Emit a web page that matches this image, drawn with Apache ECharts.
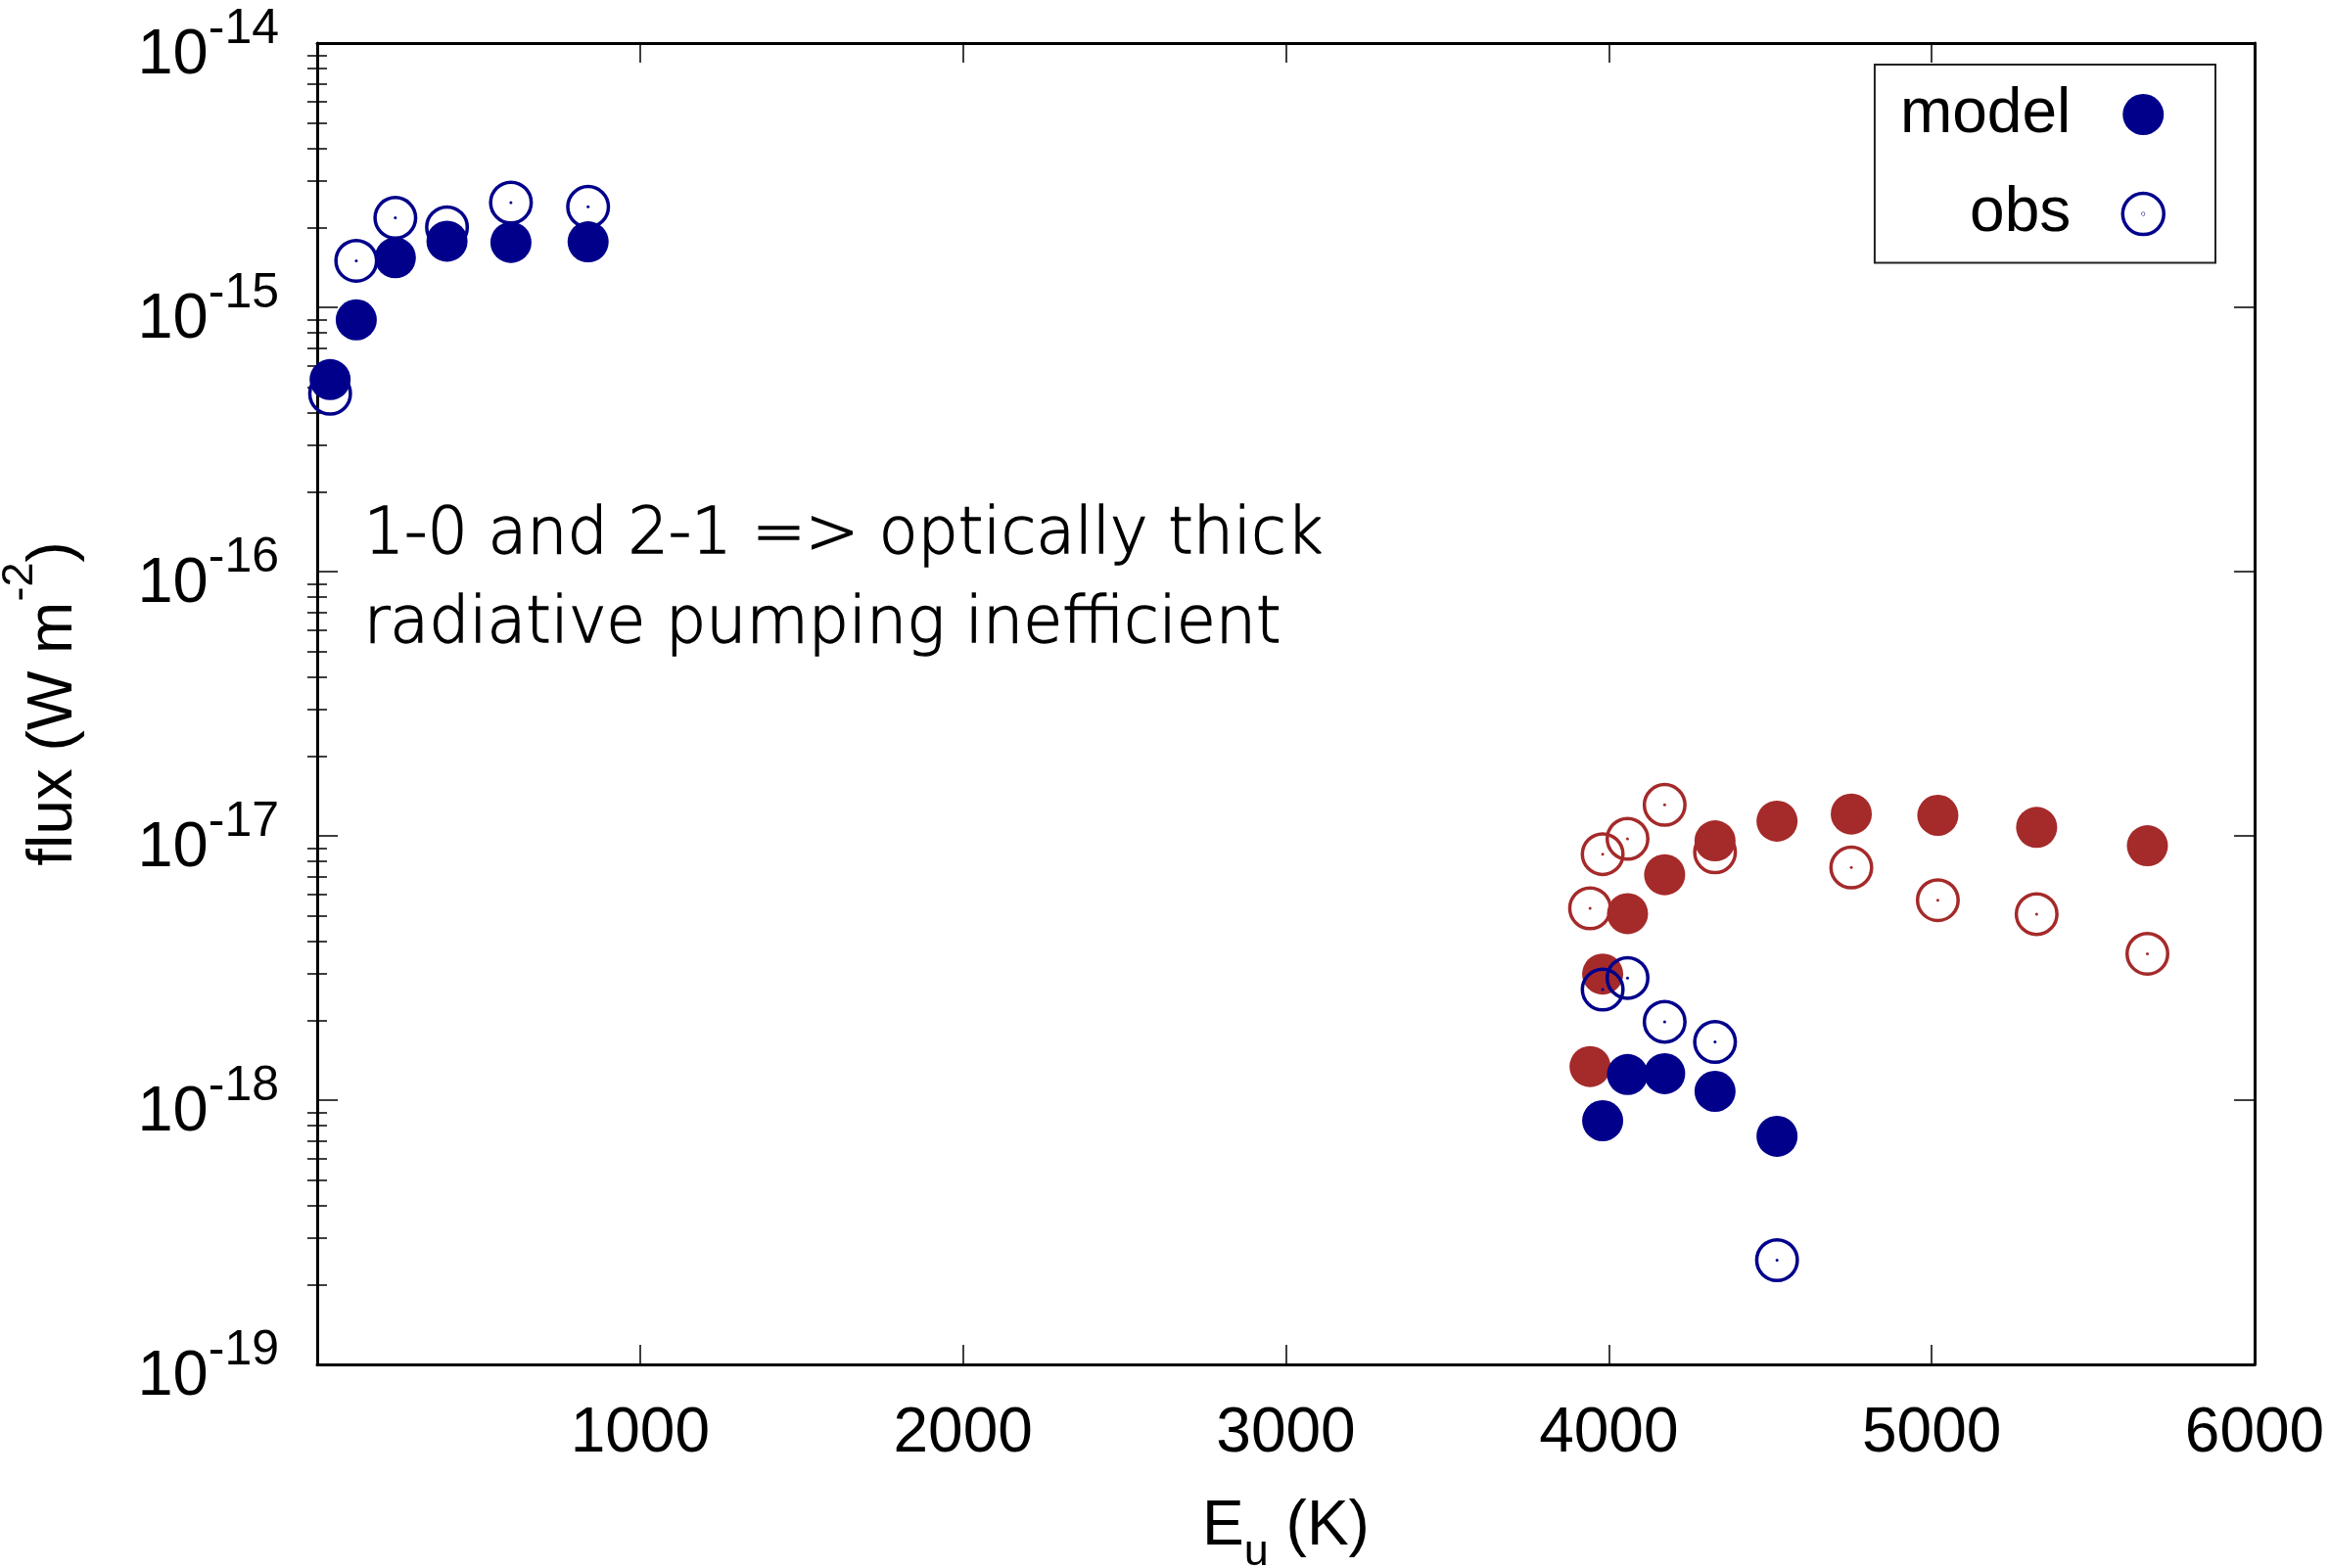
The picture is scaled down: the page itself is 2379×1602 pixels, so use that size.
<!DOCTYPE html>
<html><head><meta charset="utf-8">
<script src="https://cdn.jsdelivr.net/npm/echarts@6/dist/echarts.min.js"></script>
<style>html,body{margin:0;padding:0;background:#fff}#c{width:2379px;height:1602px}</style>
</head><body><div id="c"></div>
<script>
// ---- data ----
const eBlue = [40, 121, 242, 402, 600, 839, 3981, 4058, 4173, 4329, 4521];
const blueModel = [5.33e-16, 8.97e-16, 1.54e-15, 1.78e-15, 1.76e-15, 1.77e-15, 8.36e-19, 1.25e-18, 1.26e-18, 1.08e-18, 7.30e-19];
const blueObs = [4.71e-16, 1.50e-15, 2.18e-15, 2.01e-15, 2.49e-15, 2.40e-15, 2.62e-18, 2.90e-18, 1.98e-18, 1.66e-18, 2.48e-19];
const eRedModel = [3942, 3981, 4058, 4173, 4329, 4521, 4751, 5019, 5325, 5668];
const redModel = [1.34e-18, 3.0e-18, 5.08e-18, 7.13e-18, 9.58e-18, 1.137e-17, 1.21e-17, 1.196e-17, 1.077e-17, 9.18e-18];
const eRedObs = [3942, 3981, 4058, 4173, 4329, 4751, 5019, 5325, 5668];
const redObs = [5.32e-18, 8.53e-18, 9.75e-18, 1.31e-17, 8.67e-18, 7.59e-18, 5.71e-18, 5.06e-18, 3.58e-18];
const xRange = [0, 6000];
const xStep = 1000;
const yDecades = [-19, -18, -17, -16, -15, -14];
const minorMult = [2, 3, 4, 5, 6, 7, 8, 9];
const legendNames = ['model', 'obs'];
const noteLines = ['1-0 and 2-1 => optically thick', 'radiative pumping inefficient'];

// ---- styling ----
const BLUE = '#00008b', RED = '#a52a2a';
const FONT = '"Liberation Sans", Arial, Helvetica, sans-serif';
const yMin = Math.pow(10, yDecades[0]), yMax = Math.pow(10, yDecades[yDecades.length - 1]);
const minorTicks = [];
yDecades.slice(0, -1).forEach(d => minorMult.forEach(m => minorTicks.push(m * Math.pow(10, d))));
const pair = (xs, ys) => xs.map((x, i) => [x, ys[i]]);
const ringDotIcon = 'path://M100,50A50,50,0,1,1,0,50A50,50,0,1,1,100,50ZM50.6,50A0.6,0.6,0,1,1,49.4,50A0.6,0.6,0,1,1,50.6,50Z';

const frameLine = {show: true, onZero: false, lineStyle: {color: '#000', width: 3}};
const tickStyle = {color: '#000', width: 1.5};

const chart = echarts.init(document.getElementById('c'), null, {renderer: 'canvas'});
chart.setOption({
  animation: false,
  backgroundColor: '#fff',
  grid: {left: 324, right: 76, top: 44, bottom: 208, containLabel: false, outerBoundsMode: 'none'},
  xAxis: [
    {type: 'value', position: 'bottom', min: xRange[0], max: xRange[1], interval: xStep,
     axisLine: frameLine,
     axisTick: {show: true, inside: true, length: 20, lineStyle: tickStyle},
     axisLabel: {show: true, margin: 39, fontSize: 64, fontFamily: FONT, color: '#000', showMinLabel: false,
                 formatter: v => String(v)},
     splitLine: {show: false},
     name: '{e|E}{s|u}{e| (K)}', nameLocation: 'middle', nameGap: 118,
     nameTextStyle: {rich: {
       e: {fontSize: 64, fontFamily: FONT, color: '#000'},
       s: {fontSize: 45, fontFamily: FONT, color: '#000', padding: [52, 0, 0, 0]}
     }}},
    {type: 'value', position: 'top', min: xRange[0], max: xRange[1], interval: xStep,
     axisLine: frameLine,
     axisTick: {show: true, inside: true, length: 20, lineStyle: tickStyle},
     axisLabel: {show: false}, splitLine: {show: false}}
  ],
  yAxis: [
    {type: 'log', logBase: 10, position: 'left', min: yMin, max: yMax,
     axisLine: frameLine,
     axisTick: {show: true, inside: true, length: 21, lineStyle: tickStyle},
     axisLabel: {show: true, margin: 39, color: '#000',
       formatter: v => '{b|10}{s|' + Math.round(Math.log10(v)) + '}',
       rich: {
         b: {fontSize: 65, fontFamily: FONT, color: '#000', padding: [27, 0, 0, 0]},
         s: {fontSize: 50, fontFamily: FONT, color: '#000', padding: [0, 0, 27, 0]}
       }},
     splitLine: {show: false}, minorTick: {show: false},
     name: '{a|flux (W m}{s|-2}{a|)}', nameLocation: 'middle', nameGap: 212,
     nameTextStyle: {rich: {
       a: {fontSize: 64, fontFamily: FONT, color: '#000'},
       s: {fontSize: 45, fontFamily: FONT, color: '#000', padding: [0, 0, 69, 0]}
     }}},
    {type: 'log', logBase: 10, position: 'right', min: yMin, max: yMax,
     axisLine: frameLine,
     axisTick: {show: true, inside: true, length: 21, lineStyle: tickStyle},
     axisLabel: {show: false}, splitLine: {show: false}},
    {type: 'log', logBase: 10, position: 'left', min: yMin, max: yMax,
     axisLine: {show: false},
     axisTick: {show: true, inside: true, length: 10, lineStyle: tickStyle, customValues: minorTicks},
     axisLabel: {show: false}, splitLine: {show: false}},
    {type: 'log', logBase: 10, position: 'right', min: yMin, max: yMax,
     axisLine: {show: false},
     axisTick: {show: true, inside: true, length: 10, lineStyle: tickStyle, customValues: minorTicks},
     axisLabel: {show: false}, splitLine: {show: false}}
  ],
  legend: {
    orient: 'vertical', align: 'right', right: 116, top: 66,
    itemWidth: 42, itemHeight: 42, itemGap: 37.6,
    padding: [19, 51, 18, 26],
    borderColor: '#222', borderWidth: 2, backgroundColor: '#fff',
    selectedMode: false,
    data: [
      {name: legendNames[0], icon: 'circle', itemStyle: {color: BLUE, opacity: 1}},
      {name: legendNames[1], icon: ringDotIcon,
       itemStyle: {color: 'rgba(0,0,0,0)', borderColor: BLUE, borderWidth: 3.5, opacity: 1}}
    ],
    textStyle: {fontSize: 64, fontFamily: FONT, color: '#000', lineHeight: 64, padding: [0, 48, 0, 0]}
  },
  graphic: [{
    type: 'text', left: 371, top: 503, silent: true,
    style: {text: noteLines.join('\n'), fontSize: 65, fontFamily: '"DejaVu Sans"', fontWeight: 200,
            lineHeight: 91, fill: '#000', stroke: '#000', lineWidth: 1.3}
  }],
  series: [
    {name: 'obs-red', type: 'scatter', xAxisIndex: 0, yAxisIndex: 0, data: pair(eRedObs, redObs),
     symbol: 'circle', symbolSize: 41.5, silent: true,
     itemStyle: {color: 'rgba(0,0,0,0)', borderColor: RED, borderWidth: 3.5, opacity: 1}},
    {name: 'obs-red-dot', type: 'scatter', data: pair(eRedObs, redObs),
     symbol: 'circle', symbolSize: 3, silent: true, itemStyle: {color: RED, opacity: 1}},
    {name: 'model-red', type: 'scatter', data: pair(eRedModel, redModel),
     symbol: 'circle', symbolSize: 42, silent: true, itemStyle: {color: RED, opacity: 1}},
    {name: legendNames[1], type: 'scatter', data: pair(eBlue, blueObs),
     symbol: 'circle', symbolSize: 41.5, silent: true,
     itemStyle: {color: 'rgba(0,0,0,0)', borderColor: BLUE, borderWidth: 3.5, opacity: 1}},
    {name: 'obs-dot', type: 'scatter', data: pair(eBlue, blueObs),
     symbol: 'circle', symbolSize: 3, silent: true, itemStyle: {color: BLUE, opacity: 1}},
    {name: legendNames[0], type: 'scatter', data: pair(eBlue, blueModel),
     symbol: 'circle', symbolSize: 42, silent: true, itemStyle: {color: BLUE, opacity: 1}}
  ]
});
</script>
</body></html>
